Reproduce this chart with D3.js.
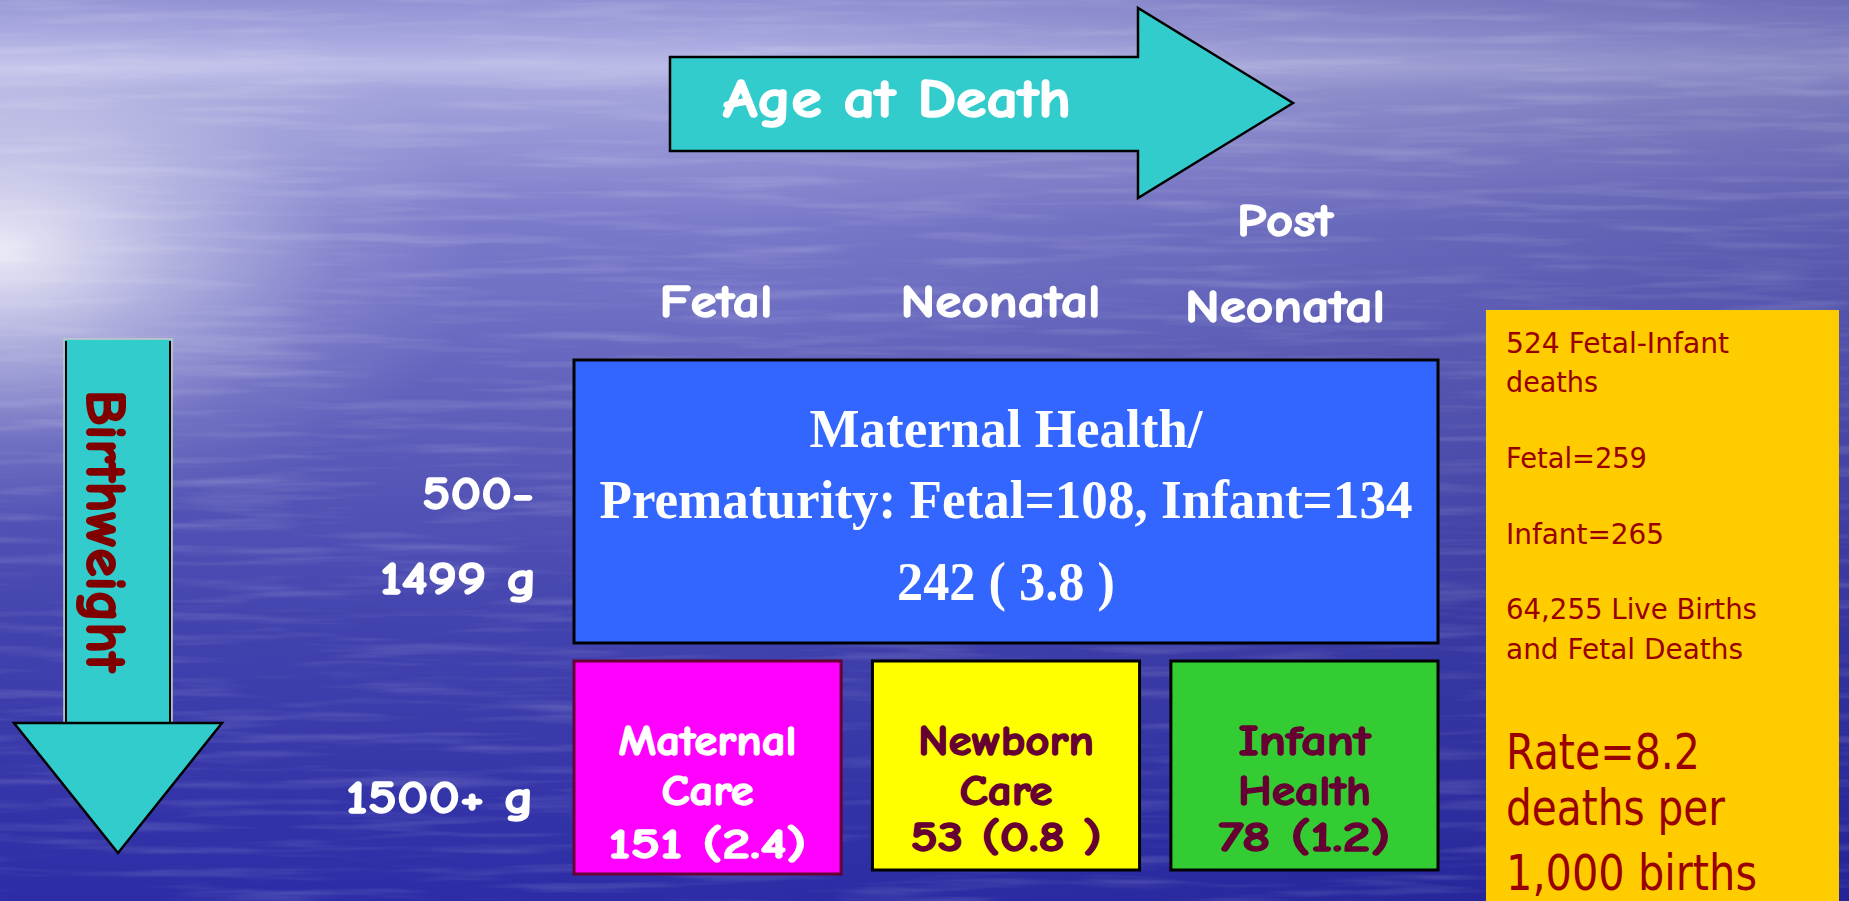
<!DOCTYPE html>
<html>
<head>
<meta charset="utf-8">
<script src="https://cdn.jsdelivr.net/npm/d3@7/dist/d3.min.js"></script>
<style>
  html, body { margin: 0; padding: 0; background: #3a3ab0; overflow: hidden; }
  svg { display: block; }
</style>
</head>
<body>
<script>
// ---------------- DATA ----------------
const titleX = "Age at Death";
const titleY = "Birthweight";
const ageColumns = [["Fetal"], ["Neonatal"], ["Post", "Neonatal"]];
const weightRows = [["500-", "1499 g"], ["1500+ g"]];

// Top row: one period spanning all ages
const topPeriodLines = ["Maternal Health/", "Prematurity: Fetal=108, Infant=134"];
const topFetal = 108, topInfant = 134;
const topDeaths = 242, topRate = 3.8;
const topLabel = "242 ( 3.8 )";

// Bottom row: one period per age column
const periodNames = [["Maternal", "Care"], ["Newborn", "Care"], ["Infant", "Health"]];
const periodDeaths = [151, 53, 78];
const periodRates = [2.4, 0.8, 1.2];
const periodLabels = ["151 (2.4)", "53 (0.8 )", "78 (1.2)"];
const periodColors = ["#ff00ff", "#ffff00", "#33cc33"];
const periodTextColors = ["#ffffff", "#660033", "#660033"];
const periodStroke = ["#660033", "#000000", "#000000"];

// Summary
const summaryLines = ["524 Fetal-Infant", "deaths", "", "Fetal=259", "", "Infant=265", "", "64,255 Live Births", "and Fetal Deaths"];
const rateLines = ["Rate=8.2", "deaths per", "1,000 births"];

// ---------------- DRAW ----------------
const W = 1849, H = 901;
const svg = d3.select("body").append("svg").attr("width", W).attr("height", H);
const defs = svg.append("defs");

// background gradients
const bg = defs.append("linearGradient").attr("id", "bgV").attr("x1", 0).attr("y1", 0).attr("x2", 0).attr("y2", 1);
[[0, "#9292d4"], [0.04, "#a4a4de"], [0.075, "#bcbce8"], [0.1, "#a4a4dc"], [0.25, "#7a7aca"], [0.45, "#6060bc"], [0.7, "#4242ae"], [1, "#2c2ca6"]]
  .forEach(([o, c]) => bg.append("stop").attr("offset", o).attr("stop-color", c));
const bgH = defs.append("linearGradient").attr("id", "bgH").attr("x1", 0).attr("y1", 0).attr("x2", 1).attr("y2", 0);
[[0, "#101070", 0.0], [0.4, "#101070", 0.0], [1, "#101070", 0.28]]
  .forEach(([o, c, a]) => bgH.append("stop").attr("offset", o).attr("stop-color", c).attr("stop-opacity", a));
const glow = defs.append("radialGradient").attr("id", "glow")
  .attr("gradientUnits", "userSpaceOnUse").attr("cx", 0).attr("cy", 0).attr("r", 1)
  .attr("gradientTransform", "translate(0,250) scale(480,280)");
[[0, "#ffffff", 0.85], [0.35, "#ffffff", 0.45], [0.7, "#ffffff", 0.12], [1, "#ffffff", 0]]
  .forEach(([o, c, a]) => glow.append("stop").attr("offset", o).attr("stop-color", c).attr("stop-opacity", a));

const f = defs.append("filter").attr("id", "waves").attr("x", 0).attr("y", 0).attr("width", 1).attr("height", 1);
f.append("feTurbulence").attr("type", "fractalNoise").attr("baseFrequency", "0.006 0.09").attr("numOctaves", 3).attr("seed", 11).attr("result", "n");
f.append("feColorMatrix").attr("in", "n").attr("type", "matrix")
  .attr("values", "0 0 0 0 1  0 0 0 0 1  0 0 0 0 1  2.0 0 0 0 -0.95");

svg.append("rect").attr("width", W).attr("height", H).attr("fill", "url(#bgV)");
svg.append("rect").attr("width", W).attr("height", H).attr("fill", "url(#glow)");
svg.append("rect").attr("width", W).attr("height", H).attr("fill", "url(#bgH)");
svg.append("rect").attr("width", W).attr("height", H).attr("filter", "url(#waves)").attr("opacity", 0.18);

const comic = "'Comic Sans MS', 'Comic Neue', 'Open Sans', sans-serif";
const serif = "'Times New Roman', 'Liberation Serif', serif";
const tahoma = "Tahoma, 'DejaVu Sans', sans-serif";

// helper: text fitted to width
function fit(g, str, cx, y, len, opt) {
  const anchor = opt.anchor || "middle";
  const x0 = anchor === "middle" ? cx - len / 2 : anchor === "end" ? cx - len : cx;
  const t = g.append("text").text(str)
    .attr("x", x0).attr("y", y)
    .attr("textLength", len).attr("lengthAdjust", "spacingAndGlyphs")
    .attr("font-family", opt.family).attr("font-size", opt.size)
    .attr("font-weight", opt.weight || "bold").attr("fill", opt.fill);
  if (opt.thick) t.attr("stroke", opt.fill).attr("stroke-width", opt.thick).attr("stroke-linejoin", "round");
  return t;
}

// scales
const colBand = d3.scaleBand().domain(d3.range(3)).range([574, 1438]).paddingInner(0.105).paddingOuter(0);
const headerX = d3.scalePoint().domain(d3.range(3)).range([716, 1285]);
const rowY = d3.scaleOrdinal().domain([0, 1]).range([[360, 643], [661, 870]]);

// ---- Age at Death arrow ----
const ax = { x0: 670, x1: 1138, tip: 1293, yb0: 57, yb1: 151, yh0: 8, yh1: 198 };
const ym = (ax.yh0 + ax.yh1) / 2;
svg.append("path")
  .attr("d", `M${ax.x0},${ax.yb0}H${ax.x1}V${ax.yh0}L${ax.tip},${ym}L${ax.x1},${ax.yh1}V${ax.yb1}H${ax.x0}Z`)
  .attr("fill", "#33cccc").attr("stroke", "#000").attr("stroke-width", 2.5).attr("stroke-linejoin", "miter");
fit(svg, titleX, 897, 117, 348, { family: comic, size: 54, fill: "#fff", thick: 1.6 });

// ---- Birthweight arrow ----
const bx = { x0: 64, x1: 172, y0: 339, y1: 723, hx0: 14, hx1: 222, tipY: 853 };
svg.append("rect").attr("x", bx.x0).attr("y", bx.y0).attr("width", bx.x1 - bx.x0).attr("height", bx.y1 - bx.y0)
  .attr("fill", "#33cccc").attr("stroke", "#c8c8c8").attr("stroke-width", 1.5);
svg.append("line").attr("x1", bx.x0 + 2).attr("x2", bx.x0 + 2).attr("y1", bx.y0 + 2).attr("y2", bx.y1).attr("stroke", "#000").attr("stroke-width", 2);
svg.append("line").attr("x1", bx.x1 - 2).attr("x2", bx.x1 - 2).attr("y1", bx.y0 + 2).attr("y2", bx.y1).attr("stroke", "#000").attr("stroke-width", 2);
svg.append("path")
  .attr("d", `M${bx.hx0},${bx.y1}H${bx.hx1}L${(bx.x0 + bx.x1) / 2},${bx.tipY}Z`)
  .attr("fill", "#33cccc").attr("stroke", "#000").attr("stroke-width", 2.5);
const bw = svg.append("g").attr("transform", "translate(87,390) rotate(90)");
fit(bw, titleY, 0, 0, 282, { family: comic, size: 56, fill: "#800000", anchor: "start", thick: 2 });

// ---- Column headers ----
const headerBaselines = [[317], [317], [236, 322]];
const headerWidths = [[113], [200], [96, 200]];
ageColumns.forEach((lines, i) => {
  lines.forEach((s, j) => fit(svg, s, headerX(i), headerBaselines[i][j], headerWidths[i][j], { family: comic, size: 47, fill: "#fff", thick: 1.4 }));
});

// ---- Row labels ----
const rowLabelBase = [[509, 594], [813]];
const rowLabelW = [[112, 157], [188]];
const rowLabelRight = [[534, 537], [534]];
weightRows.forEach((lines, i) => {
  lines.forEach((s, j) => fit(svg, s, rowLabelRight[i][j], rowLabelBase[i][j], rowLabelW[i][j], { family: comic, size: 47, fill: "#fff", anchor: "end", thick: 1.4 }));
});

// ---- Top period (spans all columns) ----
const [ty0, ty1] = rowY(0);
const tx0 = colBand(0), tx1 = colBand(2) + colBand.bandwidth();
svg.append("rect").attr("x", tx0).attr("y", ty0).attr("width", tx1 - tx0).attr("height", ty1 - ty0)
  .attr("fill", "#3366ff").attr("stroke", "#000").attr("stroke-width", 3);
const tcx = (tx0 + tx1) / 2;
fit(svg, topPeriodLines[0], tcx, 447, 393, { family: serif, size: 54, fill: "#fff" });
fit(svg, topPeriodLines[1], tcx, 518, 813, { family: serif, size: 54, fill: "#fff" });
fit(svg, topLabel, tcx, 600, 218, { family: serif, size: 54, fill: "#fff" });

// ---- Bottom periods ----
const [by0, by1] = rowY(1);
const nameW = [[178, 92], [176, 93], [132, 133]];
const valW = [198, 191, 172];
const valBase = [858, 851, 851];
const cells = svg.selectAll("g.cell").data(periodNames).join("g").attr("class", "cell");
cells.append("rect")
  .attr("x", (d, i) => colBand(i)).attr("y", by0)
  .attr("width", colBand.bandwidth()).attr("height", (d, i) => (i === 0 ? by1 + 4 : by1) - by0)
  .attr("fill", (d, i) => periodColors[i]).attr("stroke", (d, i) => periodStroke[i]).attr("stroke-width", 3);
cells.each(function (d, i) {
  const g = d3.select(this);
  const cx = colBand(i) + colBand.bandwidth() / 2;
  const o = { family: comic, size: 43, fill: periodTextColors[i], thick: 1.4 };
  fit(g, d[0], cx, 755, nameW[i][0], o);
  fit(g, d[1], cx, 805, nameW[i][1], o);
  fit(g, periodLabels[i], cx, valBase[i], valW[i], o);
});

// ---- Summary box ----
svg.append("rect").attr("x", 1486).attr("y", 310).attr("width", 353).attr("height", 600).attr("fill", "#ffcc00");
const sumBase = [353, 392, null, 468, null, 544, null, 619, 659];
const sumW = [223, 92, 0, 141, 0, 158, 0, 251, 237];
summaryLines.forEach((s, i) => {
  if (!s) return;
  fit(svg, s, 1506, sumBase[i], sumW[i], { family: tahoma, size: 29, weight: "normal", fill: "#990000", anchor: "start" });
});
const rateBase = [769, 825, 890];
const rateW = [194, 219, 251];
rateLines.forEach((s, i) => {
  fit(svg, s, 1506, rateBase[i], rateW[i], { family: tahoma, size: 49, weight: "normal", fill: "#990000", anchor: "start" });
});
</script>
</body>
</html>
